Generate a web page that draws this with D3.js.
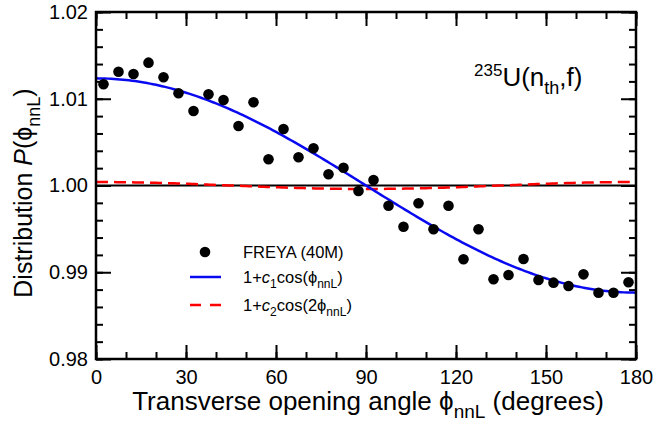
<!DOCTYPE html>
<html lang="en">
<head>
	<meta charset="UTF-8">
	<title>Transverse opening angle</title>
	<script src="https://cdn.jsdelivr.net/npm/d3@7"></script>
	<style>
		body{
			margin: 0px;
			background: #fff;
		}
		text{
			font-family: "Liberation Sans", Arial, Helvetica, sans-serif;
		}
	</style>
</head>
<body>
	<svg></svg>
	<script>
		// bin centres (degrees) and FREYA values
		var phi = [2.5, 7.5, 12.5, 17.5, 22.5, 27.5, 32.5, 37.5, 42.5, 47.5, 52.5, 57.5,
			62.5, 67.5, 72.5, 77.5, 82.5, 87.5, 92.5, 97.5, 102.5, 107.5, 112.5, 117.5,
			122.5, 127.5, 132.5, 137.5, 142.5, 147.5, 152.5, 157.5, 162.5, 167.5, 172.5, 177.5];
		var freya = [1.01167, 1.01312, 1.01285, 1.01416, 1.01247, 1.01063, 1.00859, 1.01051, 1.00986, 1.00686, 1.00959, 1.00302,
			1.00651, 1.00325, 1.00429, 1.00129, 1.00205, 0.99937, 1.00063, 0.99767, 0.99525, 0.99795, 0.99495, 0.99767,
			0.99149, 0.99495, 0.98919, 0.98968, 0.99153, 0.98911, 0.98880, 0.98841, 0.98976, 0.98764, 0.98764, 0.98884];

		// fit coefficients
		var c1 = 0.01235,
			c2 = 0.0004;

		var xMajor = [0, 30, 60, 90, 120, 150, 180],
			xMinor = d3.range(0, 181, 10),
			yMajor = [0.98, 0.99, 1.00, 1.01, 1.02],
			yMinor = d3.range(0.98, 1.0201, 0.002);

		var w = 655,
			h = 423,
			margin = {left: 96, top: 12, right: 19, bottom: 64},
			svg = d3.select("svg").attr("width", w).attr("height", h);

		var x = d3.scaleLinear().domain([0, 180]).range([margin.left, w - margin.right]),
			y = d3.scaleLinear().domain([0.98, 1.02]).range([h - margin.bottom, margin.top]);

		var grid = d3.range(0, 180.5, 1);
		var line = d3.line().x(d => x(d[0])).y(d => y(d[1]));

		// reference line at 1
		svg.append("line")
			.attr("x1", x(0)).attr("x2", x(180))
			.attr("y1", y(1)).attr("y2", y(1))
			.attr("stroke", "#000").attr("stroke-width", 2);

		// c2 fit
		svg.append("path")
			.attr("d", line(grid.map(p => [p, 1 + c2 * Math.cos(2 * p * Math.PI / 180)])))
			.attr("fill", "none").attr("stroke", "#f00")
			.attr("stroke-width", 2.5).attr("stroke-dasharray", "12,6");

		// c1 fit
		svg.append("path")
			.attr("d", line(grid.map(p => [p, 1 + c1 * Math.cos(p * Math.PI / 180)])))
			.attr("fill", "none").attr("stroke", "#0a0af0")
			.attr("stroke-width", 2.5);

		// points
		svg.selectAll("circle.pt")
			.data(phi)
			.enter().append("circle")
			.attr("class", "pt")
			.attr("cx", d => x(d))
			.attr("cy", (d, i) => y(freya[i]))
			.attr("r", 5.3)
			.attr("fill", "#000");

		// axes, ticks inward on all four sides
		function style(g) {
			g.select(".domain").remove();
			g.selectAll(".tick line").attr("stroke", "#000").attr("stroke-width", 2);
			g.selectAll(".tick text").attr("font-size", 20).attr("fill", "#000")
				.style("font-family", "'Liberation Sans', Arial, sans-serif");
		}

		var yBot = h - margin.bottom,
			yTop = margin.top,
			xLeft = margin.left,
			xRight = w - margin.right;

		svg.append("g").attr("transform", "translate(0," + yBot + ")")
			.call(d3.axisBottom(x).tickValues(xMinor).tickFormat("").tickSize(-7)).call(style);
		svg.append("g").attr("transform", "translate(0," + yBot + ")")
			.call(d3.axisBottom(x).tickValues(xMajor).tickFormat(d3.format("d")).tickSizeInner(-14)).call(style)
			.selectAll(".tick text").attr("y", 11).attr("dy", "0.71em");
		svg.append("g").attr("transform", "translate(0," + yTop + ")")
			.call(d3.axisTop(x).tickValues(xMinor).tickFormat("").tickSize(-7)).call(style);
		svg.append("g").attr("transform", "translate(0," + yTop + ")")
			.call(d3.axisTop(x).tickValues(xMajor).tickFormat("").tickSize(-14)).call(style);

		svg.append("g").attr("transform", "translate(" + xLeft + ",0)")
			.call(d3.axisLeft(y).tickValues(yMinor).tickFormat("").tickSize(-7)).call(style);
		svg.append("g").attr("transform", "translate(" + xLeft + ",0)")
			.call(d3.axisLeft(y).tickValues(yMajor).tickFormat(d3.format(".2f")).tickSizeInner(-15)).call(style)
			.selectAll(".tick text").attr("x", -8);
		svg.append("g").attr("transform", "translate(" + xRight + ",0)")
			.call(d3.axisRight(y).tickValues(yMinor).tickFormat("").tickSize(-7)).call(style);
		svg.append("g").attr("transform", "translate(" + xRight + ",0)")
			.call(d3.axisRight(y).tickValues(yMajor).tickFormat("").tickSize(-15)).call(style);

		// frame
		svg.append("rect")
			.attr("x", xLeft).attr("y", yTop)
			.attr("width", xRight - xLeft).attr("height", yBot - yTop)
			.attr("fill", "none").attr("stroke", "#000").attr("stroke-width", 2.5);

		// axis titles
		var xt = svg.append("text")
			.attr("x", 368).attr("y", 410)
			.attr("text-anchor", "middle").attr("font-size", 26);
		xt.append("tspan").text("Transverse opening angle ϕ");
		xt.append("tspan").attr("font-size", 19).attr("dy", 8).text("nnL");
		xt.append("tspan").attr("dy", -8).text(" (degrees)");

		var yt = svg.append("text")
			.attr("transform", "translate(32," + 193 + ") rotate(-90)")
			.attr("text-anchor", "middle").attr("font-size", 25);
		yt.append("tspan").text("Distribution ");
		yt.append("tspan").attr("font-style", "italic").text("P");
		yt.append("tspan").text("(ϕ");
		yt.append("tspan").attr("font-size", 18).attr("dy", 8).text("nnL");
		yt.append("tspan").attr("dy", -8).text(")");

		// reaction label
		var rt = svg.append("text").attr("x", 474).attr("y", 86).attr("font-size", 26);
		rt.append("tspan").attr("font-size", 17).attr("dy", -10).text("235");
		rt.append("tspan").attr("dy", 10).text("U(n");
		rt.append("tspan").attr("font-size", 18).attr("dy", 8).text("th");
		rt.append("tspan").attr("dy", -8).text(",f)");

		// legend
		var lg = svg.append("g");
		lg.append("circle").attr("cx", 205).attr("cy", 252).attr("r", 5.3).attr("fill", "#000");
		lg.append("text").attr("x", 243).attr("y", 258).attr("font-size", 16.5).text("FREYA (40M)");

		lg.append("line").attr("x1", 190).attr("x2", 221).attr("y1", 277).attr("y2", 277)
			.attr("stroke", "#0a0af0").attr("stroke-width", 2.5);
		var l2 = lg.append("text").attr("x", 243).attr("y", 283).attr("font-size", 16.5);
		l2.append("tspan").text("1+");
		l2.append("tspan").attr("font-style", "italic").text("c");
		l2.append("tspan").attr("font-size", 12).attr("dy", 5).text("1");
		l2.append("tspan").attr("dy", -5).text("cos(ϕ");
		l2.append("tspan").attr("font-size", 12).attr("dy", 5).text("nnL");
		l2.append("tspan").attr("dy", -5).text(")");

		lg.append("line").attr("x1", 190).attr("x2", 221).attr("y1", 305).attr("y2", 305)
			.attr("stroke", "#f00").attr("stroke-width", 2.5).attr("stroke-dasharray", "11,9");
		var l3 = lg.append("text").attr("x", 243).attr("y", 311).attr("font-size", 16.5);
		l3.append("tspan").text("1+");
		l3.append("tspan").attr("font-style", "italic").text("c");
		l3.append("tspan").attr("font-size", 12).attr("dy", 5).text("2");
		l3.append("tspan").attr("dy", -5).text("cos(2ϕ");
		l3.append("tspan").attr("font-size", 12).attr("dy", 5).text("nnL");
		l3.append("tspan").attr("dy", -5).text(")");
	</script>
</body>
</html>
